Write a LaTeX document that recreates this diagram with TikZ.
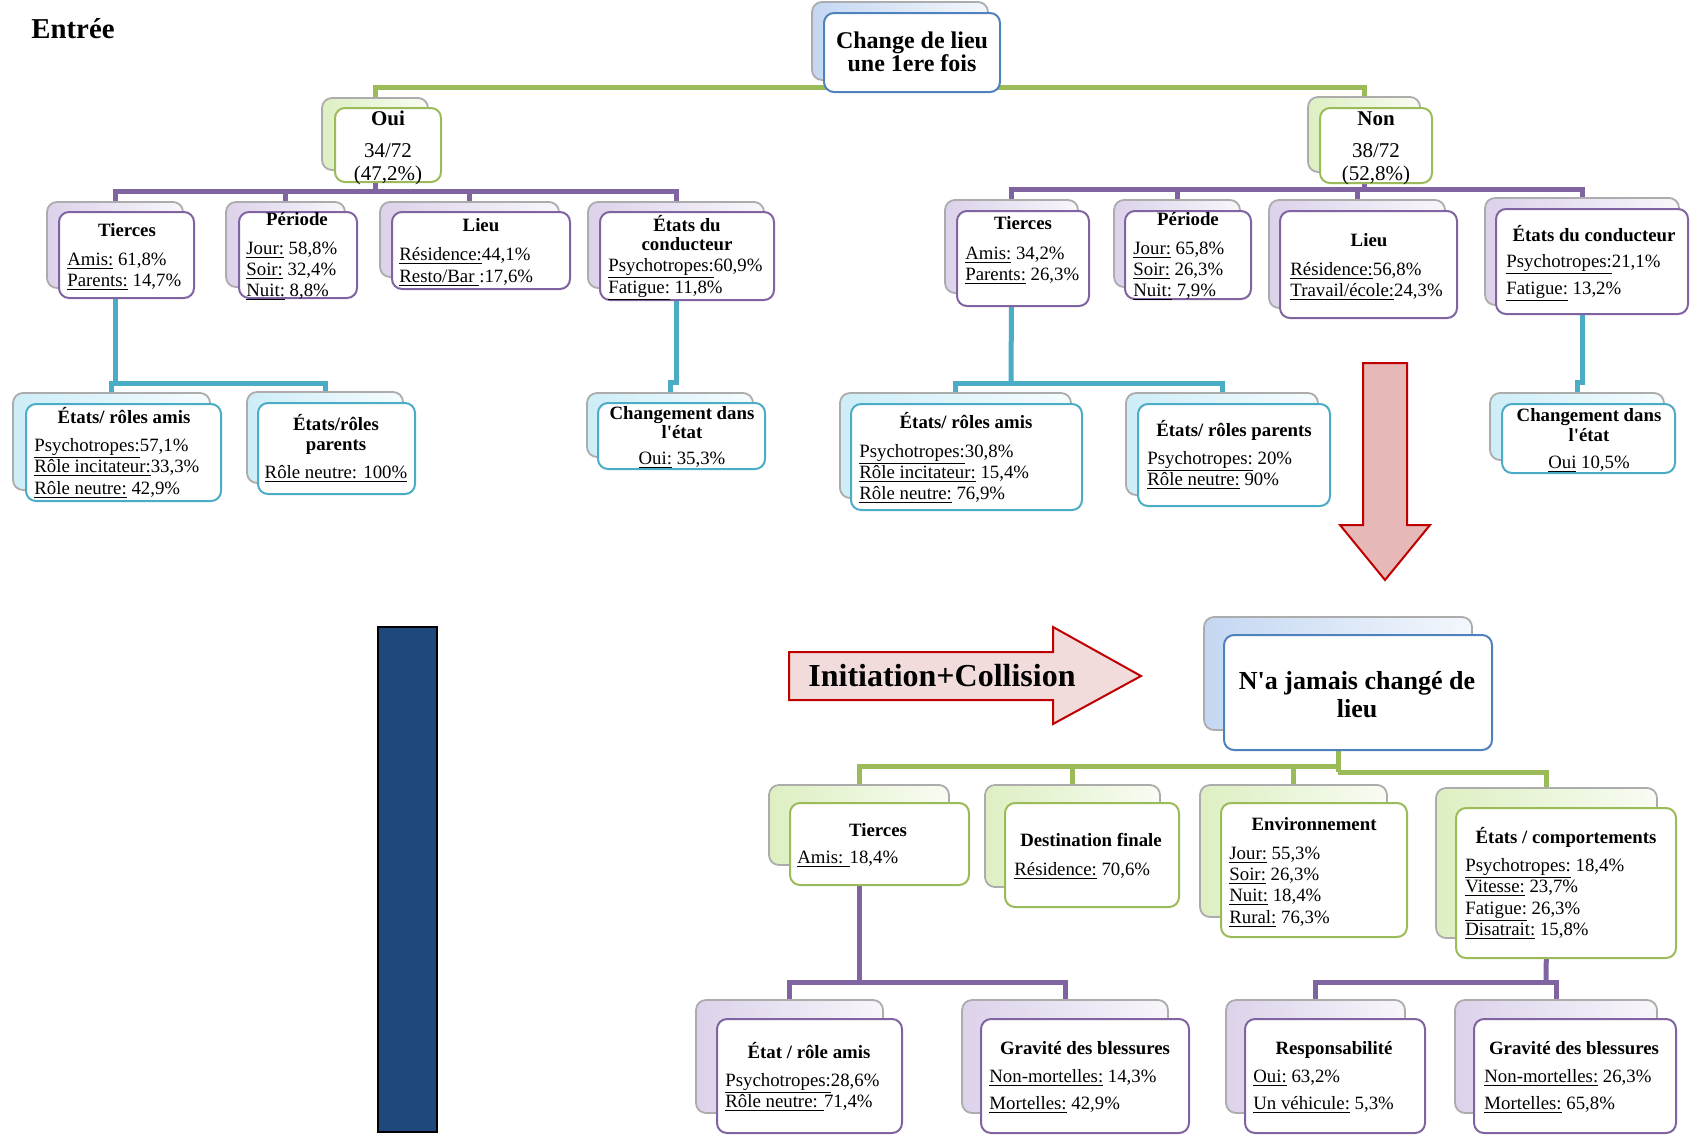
\documentclass[tikz,border=0pt]{standalone}
\usepackage{fontspec}
\setmainfont{Liberation Serif}
\usetikzlibrary{fit,calc}
\pgfdeclarelayer{bg}
\pgfsetlayers{bg,main}
\definecolor{gB}{HTML}{9BBB59}
\definecolor{gF}{HTML}{DDEFC2}
\definecolor{pB}{HTML}{8064A2}
\definecolor{pF}{HTML}{DCD2EA}
\definecolor{cB}{HTML}{4BACC6}
\definecolor{cF}{HTML}{CDEDF7}
\definecolor{bB}{HTML}{4F81BD}
\definecolor{bF}{HTML}{C4D7F2}
\definecolor{arrR}{HTML}{C00000}
\definecolor{arrF}{HTML}{E6B9B8}
\definecolor{arrL}{HTML}{F2DCDB}
\definecolor{navy}{HTML}{1F497D}
\tikzset{
  bk/.style={draw=gray!65, line width=0.9pt, rounded corners=5pt, inner sep=0pt, left color=#1, right color=#1!20!white},
  fr/.style={draw=#1, line width=1pt, rounded corners=5pt, inner sep=0pt, fill=white},
  txt/.style={font={\fontsize{9.4}{10.5}\selectfont}, inner sep=0pt},
  hd/.style={font={\fontsize{9.4}{10.5}\selectfont\bfseries}, inner sep=0pt},
  con/.style={line width=2.5pt, draw=#1},
}
\newcommand\Lt[4]{\node[txt,anchor=base west] (#1) at (#2,#3+6) {#4};}
\newcommand\Ct[4]{\node[txt,anchor=base] (#1) at (#2,#3+6) {#4};}
\newcommand\Hd[4]{\node[hd,anchor=base] (#1) at (#2,#3+6) {#4};}
\newcommand\apos{\textquotesingle}
\begin{document}
\begin{tikzpicture}[x=0.5pt,y=-0.5pt]
\useasboundingbox (0,0) rectangle (1690,1135);

\node[font={\fontsize{14.4}{16}\selectfont\bfseries}, inner sep=0pt, anchor=base] (entree) at (73,39) {Entrée};

% ---------- top node
\node[bk=bF, fit={(812,2)(988,80)}] (topb) {};
\node[fr=bB, fit={(824,13)(1000,92)}] (top) {};
\node[font={\fontsize{12}{13}\selectfont\bfseries}, inner sep=0pt, anchor=base] (topt1) at (912,48) {Change de lieu};
\node[font={\fontsize{12}{13}\selectfont\bfseries}, inner sep=0pt, anchor=base] (topt2) at (912,71) {une 1ere fois};

% ---------- Oui / Non
\node[bk=gF, fit={(322,98)(428,170)}] (ouib) {};
\node[fr=gB, fit={(335,108)(441,182)}] (oui) {};
\node[font={\fontsize{10.5}{12}\selectfont\bfseries}, inner sep=0pt, anchor=base] (ouit) at (388,125) {Oui};
\node[font={\fontsize{10.5}{12}\selectfont}, inner sep=0pt, anchor=base] (ouin) at (388,157) {34/72};
\node[font={\fontsize{10.5}{12}\selectfont}, inner sep=0pt, anchor=base] (ouip) at (388,180) {(47,2\%)};

\node[bk=gF, fit={(1308,97)(1420,172)}] (nonb) {};
\node[fr=gB, fit={(1320,108)(1432,183)}] (non) {};
\node[font={\fontsize{10.5}{12}\selectfont\bfseries}, inner sep=0pt, anchor=base] (nont) at (1376,125) {Non};
\node[font={\fontsize{10.5}{12}\selectfont}, inner sep=0pt, anchor=base] (nonn) at (1376,157) {38/72};
\node[font={\fontsize{10.5}{12}\selectfont}, inner sep=0pt, anchor=base] (nonp) at (1376,180) {(52,8\%)};

% ---------- Left level 2
\node[bk=pF, fit={(47,202)(183,288)}] (tlb) {};
\node[fr=pB, fit={(59,212)(194,298)}] (tl) {};
\Hd{tlh}{127}{230}{Tierces}
\Lt{tl1}{67}{259}{\underline{Amis:} 61,8\%}
\Lt{tl2}{67}{280}{\underline{Parents:} 14,7\%}

\node[bk=pF, fit={(226,202)(345,287)}] (plb) {};
\node[fr=pB, fit={(239,212)(357,298)}] (pl) {};
\Hd{plh}{297}{219}{Période}
\Lt{pl1}{246}{248}{\underline{Jour:} 58,8\%}
\Lt{pl2}{246}{269}{\underline{Soir:} 32,4\%}
\Lt{pl3}{246}{290}{\underline{Nuit:} 8,8\%}

\node[bk=pF, fit={(380,202)(559,277)}] (llb) {};
\node[fr=pB, fit={(392,212)(570,289)}] (ll) {};
\Hd{llh}{481}{225}{Lieu}
\Lt{ll1}{399}{254}{\underline{Résidence:}44,1\%}
\Lt{ll2}{399}{276}{\underline{Resto/Bar }:17,6\%}

\node[bk=pF, fit={(588,202)(764,288)}] (elb) {};
\node[fr=pB, fit={(600,212)(774,300)}] (el) {};
\Hd{elh1}{687}{225}{États du}
\Hd{elh2}{687}{244}{conducteur}
\Lt{el1}{608}{265}{\underline{Psychotropes:}60,9\%}
\Lt{el2}{608}{287}{\underline{Fatigue:} 11,8\%}

% ---------- Right level 2
\node[bk=pF, fit={(945,200)(1078,293)}] (trb) {};
\node[fr=pB, fit={(957,211)(1089,306)}] (tr) {};
\Hd{trh}{1023}{223}{Tierces}
\Lt{tr1}{965}{253}{\underline{Amis:} 34,2\%}
\Lt{tr2}{965}{274}{\underline{Parents:} 26,3\%}

\node[bk=pF, fit={(1114,200)(1240,287)}] (prb) {};
\node[fr=pB, fit={(1125,211)(1251,299)}] (pr) {};
\Hd{prh}{1188}{219}{Période}
\Lt{pr1}{1133}{248}{\underline{Jour:} 65,8\%}
\Lt{pr2}{1133}{269}{\underline{Soir:} 26,3\%}
\Lt{pr3}{1133}{290}{\underline{Nuit:} 7,9\%}

\node[bk=pF, fit={(1269,200)(1445,308)}] (lrb) {};
\node[fr=pB, fit={(1280,211)(1457,318)}] (lr) {};
\Hd{lrh}{1369}{240}{Lieu}
\Lt{lr1}{1290}{269}{\underline{Résidence:}56,8\%}
\Lt{lr2}{1290}{290}{\underline{Travail/école:}24,3\%}

\node[bk=pF, fit={(1485,198)(1679,305)}] (erb) {};
\node[fr=pB, fit={(1496,209)(1688,314)}] (er) {};
\Hd{erh}{1594}{235}{États du conducteur}
\Lt{er1}{1506}{261}{\underline{Psychotropes:}21,1\%}
\Lt{er2}{1506}{288}{\underline{Fatigue:} 13,2\%}

% ---------- Left level 3
\node[bk=cF, fit={(13,393)(210,490)}] (alb) {};
\node[fr=cB, fit={(26,404)(221,501)}] (al) {};
\Hd{alh}{124}{417}{États/ rôles amis}
\Lt{al1}{34}{445}{\underline{Psychotropes:}57,1\%}
\Lt{al2}{34}{466}{\underline{Rôle incitateur:}33,3\%}
\Lt{al3}{34}{488}{\underline{Rôle neutre:} 42,9\%}

\node[bk=cF, fit={(247,392)(403,483)}] (rlb) {};
\node[fr=cB, fit={(258,403)(415,494)}] (rl) {};
\Hd{rlh1}{336}{424}{États/rôles}
\Hd{rlh2}{336}{444}{parents}
\Ct{rl1}{336}{472}{\underline{Rôle neutre: 100\%}}

\node[bk=cF, fit={(587,393)(753,457)}] (clb) {};
\node[fr=cB, fit={(598,403)(765,469)}] (cl) {};
\Hd{clh1}{682}{413}{Changement dans}
\Hd{clh2}{682}{432}{l\apos état}
\Ct{cl1}{682}{458}{\underline{Oui:} 35,3\%}

% ---------- Right level 3
\node[bk=cF, fit={(840,393)(1071,498)}] (arb) {};
\node[fr=cB, fit={(851,404)(1082,510)}] (ar) {};
\Hd{arh}{966}{422}{États/ rôles amis}
\Lt{ar1}{859}{451}{\underline{Psychotropes:}30,8\%}
\Lt{ar2}{859}{472}{\underline{Rôle incitateur:} 15,4\%}
\Lt{ar3}{859}{493}{\underline{Rôle neutre:} 76,9\%}

\node[bk=cF, fit={(1126,393)(1318,495)}] (rrb) {};
\node[fr=cB, fit={(1138,404)(1330,506)}] (rr) {};
\Hd{rrh}{1234}{430}{États/ rôles parents}
\Lt{rr1}{1147}{458}{\underline{Psychotropes:} 20\%}
\Lt{rr2}{1147}{479}{\underline{Rôle neutre:} 90\%}

\node[bk=cF, fit={(1490,393)(1664,460)}] (crb) {};
\node[fr=cB, fit={(1502,404)(1675,473)}] (cr) {};
\Hd{crh1}{1589}{415}{Changement dans}
\Hd{crh2}{1589}{435}{l\apos état}
\Ct{cr1}{1589}{462}{\underline{Oui} 10,5\%}

% ---------- arrows and bar
\draw[draw=arrR, fill=arrF, line width=1pt] (1363,363) -- (1407,363) -- (1407,525) -- (1430,525) -- (1385,580) -- (1340,525) -- (1363,525) -- cycle;
\draw[draw=arrR, fill=arrL, line width=1pt] (789,652) -- (1053,652) -- (1053,627) -- (1141,676) -- (1053,724) -- (1053,700) -- (789,700) -- cycle;
\node[font={\fontsize{16}{18}\selectfont\bfseries}, inner sep=0pt, anchor=base] (init) at (942,686) {Initiation+Collision};
\draw[draw=black, fill=navy, line width=1pt] (378,627) rectangle (437,1132);

% ---------- N'a jamais
\node[bk=bF, fit={(1204,617)(1472,730)}] (njb) {};
\node[fr=bB, fit={(1224,635)(1492,750)}] (nj) {};
\node[font={\fontsize{13}{15}\selectfont\bfseries}, inner sep=0pt, anchor=base] (njt1) at (1357,689) {N\apos a jamais changé de};
\node[font={\fontsize{13}{15}\selectfont\bfseries}, inner sep=0pt, anchor=base] (njt2) at (1357,717) {lieu};

% ---------- bottom level 2
\node[bk=gF, fit={(769,785)(949,865)}] (tbb) {};
\node[fr=gB, fit={(790,803)(969,885)}] (tb) {};
\Hd{tbh}{878}{830}{Tierces}
\Lt{tb1}{797}{857}{\underline{Amis: }18,4\%}

\node[bk=gF, fit={(985,785)(1160,887)}] (dbb) {};
\node[fr=gB, fit={(1005,803)(1179,907)}] (db) {};
\Hd{dbh}{1091}{840}{Destination finale}
\Lt{db1}{1014}{869}{\underline{Résidence:} 70,6\%}

\node[bk=gF, fit={(1200,785)(1387,917)}] (ebb) {};
\node[fr=gB, fit={(1221,803)(1407,937)}] (eb) {};
\Hd{ebh}{1314}{824}{Environnement}
\Lt{eb1}{1229}{853}{\underline{Jour:} 55,3\%}
\Lt{eb2}{1229}{874}{\underline{Soir:} 26,3\%}
\Lt{eb3}{1229}{895}{\underline{Nuit:} 18,4\%}
\Lt{eb4}{1229}{917}{\underline{Rural:} 76,3\%}

\node[bk=gF, fit={(1436,788)(1657,938)}] (sbb) {};
\node[fr=gB, fit={(1456,808)(1676,958)}] (sb) {};
\Hd{sbh}{1566}{837}{États / comportements}
\Lt{sb1}{1465}{865}{\underline{Psychotropes:} 18,4\%}
\Lt{sb2}{1465}{886}{\underline{Vitesse:} 23,7\%}
\Lt{sb3}{1465}{908}{\underline{Fatigue:} 26,3\%}
\Lt{sb4}{1465}{929}{\underline{Disatrait:} 15,8\%}

% ---------- bottom level 3
\node[bk=pF, fit={(696,1000)(883,1113)}] (rab) {};
\node[fr=pB, fit={(717,1019)(902,1133)}] (ra) {};
\Hd{rah}{809}{1052}{État / rôle amis}
\Lt{ra1}{725}{1080}{\underline{Psychotropes:}28,6\%}
\Lt{ra2}{725}{1101}{\underline{Rôle neutre: }71,4\%}

\node[bk=pF, fit={(962,1000)(1168,1113)}] (g1b) {};
\node[fr=pB, fit={(981,1019)(1189,1133)}] (g1) {};
\Hd{g1h}{1085}{1048}{Gravité des blessures}
\Lt{g11}{989}{1076}{\underline{Non-mortelles:} 14,3\%}
\Lt{g12}{989}{1103}{\underline{Mortelles:} 42,9\%}

\node[bk=pF, fit={(1226,1000)(1405,1113)}] (rsb) {};
\node[fr=pB, fit={(1245,1019)(1425,1133)}] (rs) {};
\Hd{rsh}{1334}{1048}{Responsabilité}
\Lt{rs1}{1253}{1076}{\underline{Oui:} 63,2\%}
\Lt{rs2}{1253}{1103}{\underline{Un véhicule:} 5,3\%}

\node[bk=pF, fit={(1455,1000)(1657,1113)}] (g2b) {};
\node[fr=pB, fit={(1474,1019)(1676,1133)}] (g2) {};
\Hd{g2h}{1574}{1048}{Gravité des blessures}
\Lt{g21}{1484}{1076}{\underline{Non-mortelles:} 26,3\%}
\Lt{g22}{1484}{1103}{\underline{Mortelles:} 65,8\%}

% ---------- connectors (behind)
\begin{pgfonlayer}{bg}
\fill[white] (0,0) rectangle (1690,1135);
\coordinate (tj) at (912,87);
\draw[con=gB] (ouib.north) |- (tj) -| (nonb.north);

\coordinate (pjl) at (375,191);
\draw[con=pB] (ouib.south) -- (pjl);
\foreach \n in {tlb,plb,llb,elb} \draw[con=pB] (\n.north) |- (pjl);

\coordinate (pjr) at (1364,189);
\draw[con=pB] (nonb.south) -- (pjr);
\foreach \n in {trb,prb,lrb,erb} \draw[con=pB] (\n.north) |- (pjr);

\coordinate (cjl) at (115,383);
\draw[con=cB] (tlb.south) -- (cjl);
\foreach \n in {alb,rlb} \draw[con=cB] (\n.north) |- (cjl);
\draw[con=cB] (elb.south) |- ($(clb.north)+(0,-10)$) -- (clb.north);

\coordinate (cjr) at (1011,383);
\draw[con=cB] (trb.south) -- (cjr);
\foreach \n in {arb,rrb} \draw[con=cB] (\n.north) |- (cjr);
\draw[con=cB] (erb.south) |- ($(crb.north)+(0,-10)$) -- (crb.north);

\coordinate (gj1) at (1338,766);
\coordinate (gj2) at (1338,772);
\draw[con=gB] (njb.south) -- (gj2);
\foreach \n in {tbb,dbb,ebb} \draw[con=gB] (\n.north) |- (gj1);
\draw[con=gB] (sbb.north) |- (gj2);

\coordinate (bj1) at (859,982);
\draw[con=pB] (tbb.south) -- (bj1);
\foreach \n in {rab,g1b} \draw[con=pB] (\n.north) |- (bj1);
\coordinate (bj2) at (1546,982);
\draw[con=pB] (sbb.south) -- (bj2);
\foreach \n in {rsb,g2b} \draw[con=pB] (\n.north) |- (bj2);
\end{pgfonlayer}
\end{tikzpicture}
\end{document}
